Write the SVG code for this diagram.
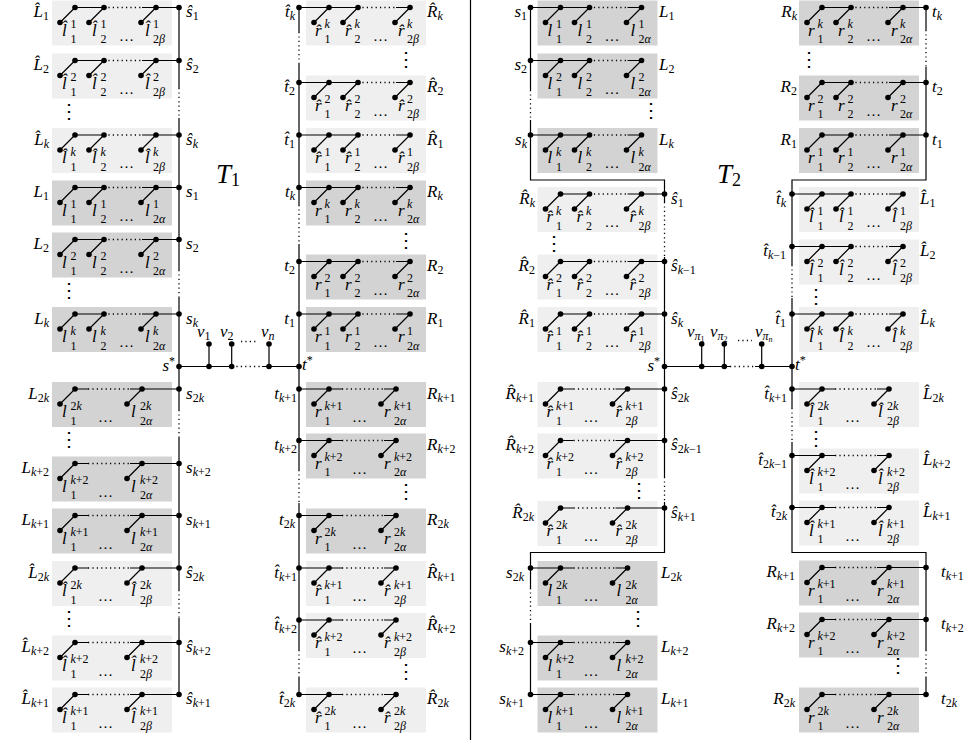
<svg xmlns="http://www.w3.org/2000/svg" width="975" height="740" viewBox="0 0 975 740">
<style>
.t{font-family:"Liberation Serif","DejaVu Serif",serif;font-style:italic;font-size:17px;fill:#000}
.s{font-size:12px}
.u{font-style:normal}
.T{font-family:"Liberation Serif","DejaVu Serif",serif;font-style:italic;font-size:27px;fill:#000}
.Ts{font-size:18px;font-style:normal}
.el{font-family:"Liberation Serif",serif;font-size:15px;font-style:normal;fill:#000}
.vd{font-family:"DejaVu Serif",serif;font-size:20px;text-anchor:middle;fill:#000}
.lt{fill:#efefef}
.dk{fill:#d3d3d3}
.ln{stroke:#000;stroke-width:1.2;fill:none}
.dt{stroke:#000;stroke-width:1.3;fill:none;stroke-dasharray:1.2 3.2}
.d{fill:#000}
.e{text-anchor:end}
</style>
<defs>
<g id="gA"><path class="ln" d="M23,0H52M90,0H127M8,15L23,0M37,15L52,0M89,15L104,0"/><path class="dt" d="M52,0H90"/><circle class="d" cx="23" cy="0" r="2.8"/><circle class="d" cx="52" cy="0" r="2.8"/><circle class="d" cx="104" cy="0" r="2.8"/><circle class="d" cx="127" cy="0" r="2.8"/><circle class="d" cx="8" cy="15" r="2.8"/><circle class="d" cx="37" cy="15" r="2.8"/><circle class="d" cx="89" cy="15" r="2.8"/></g>
<g id="gB"><path class="ln" d="M-7,0H52M90,0H104M8,15L23,0M37,15L52,0M89,15L104,0"/><path class="dt" d="M52,0H90"/><circle class="d" cx="-7" cy="0" r="2.8"/><circle class="d" cx="23" cy="0" r="2.8"/><circle class="d" cx="52" cy="0" r="2.8"/><circle class="d" cx="104" cy="0" r="2.8"/><circle class="d" cx="8" cy="15" r="2.8"/><circle class="d" cx="37" cy="15" r="2.8"/><circle class="d" cx="89" cy="15" r="2.8"/></g>
<g id="gC"><path class="ln" d="M23,0H36M78,0H127M8,15L23,0M75,15L90,0"/><path class="dt" d="M36,0H78"/><circle class="d" cx="23" cy="0" r="2.8"/><circle class="d" cx="90" cy="0" r="2.8"/><circle class="d" cx="127" cy="0" r="2.8"/><circle class="d" cx="8" cy="15" r="2.8"/><circle class="d" cx="75" cy="15" r="2.8"/></g>
<g id="gD"><path class="ln" d="M-7,0H36M78,0H90M8,15L23,0M75,15L90,0"/><path class="dt" d="M36,0H78"/><circle class="d" cx="-7" cy="0" r="2.8"/><circle class="d" cx="23" cy="0" r="2.8"/><circle class="d" cx="90" cy="0" r="2.8"/><circle class="d" cx="8" cy="15" r="2.8"/><circle class="d" cx="75" cy="15" r="2.8"/></g>
</defs>

<line class="ln" x1="470.5" y1="0" x2="470.5" y2="740"/>

<g id="connectors">
<path class="ln" d="M179,7.5V88M179,118V270M179,297V410M179,437V590M179,618V694.5"/>
<path class="dt" d="M179,88V118M179,270V297M179,410V437M179,590V618"/>
<path class="ln" d="M299,7.5V32M299,63V205M299,244V470M299,503V650M299,677V694.5"/>
<path class="dt" d="M299,32V63M299,205V244M299,470V503M299,650V677"/>
<path class="ln" d="M530.5,7.5V90M530.5,120V180H664.5V202M664.5,257V477M664.5,502V552.5H530.5V588M530.5,623V694.5"/>
<path class="dt" d="M530.5,90V120M664.5,202V257M664.5,477V502M530.5,588V623"/>
<path class="ln" d="M926,7.5V30M926,67V180H792V265M792,298V408M792,442V552.5H926V650M926,677V694.5"/>
<path class="dt" d="M926,30V67M792,265V298M792,408V442M926,650V677"/>
<path class="ln" d="M179,366.5H232M262,366.5H299M209,344V366.5M231.7,344V366.5M269,344V366.5"/>
<path class="dt" d="M232,366.5H262M241,341.5H258"/>
<path class="ln" d="M664.5,366.5H730M755,366.5H792M701.7,344V366.5M724.3,344V366.5M761.7,344V366.5"/>
<path class="dt" d="M730,366.5H755M738,340.5H752"/>
</g>

<g id="T1-mid">
<circle class="d" cx="179" cy="366.5" r="2.8"/><circle class="d" cx="209" cy="366.5" r="2.8"/><circle class="d" cx="231.7" cy="366.5" r="2.8"/><circle class="d" cx="269" cy="366.5" r="2.8"/><circle class="d" cx="299" cy="366.5" r="2.8"/><circle class="d" cx="209" cy="344" r="2.8"/><circle class="d" cx="231.7" cy="344" r="2.8"/><circle class="d" cx="269" cy="344" r="2.8"/>
<text class="t e" x="175" y="371">s<tspan class="s u" dy="-6">*</tspan></text>
<text class="t" x="302" y="370">t<tspan class="s u" dy="-6">*</tspan></text>
<text class="t" x="197" y="337">v<tspan class="s u" dy="3">1</tspan></text>
<text class="t" x="220" y="337">v<tspan class="s u" dy="3">2</tspan></text>
<text class="t" x="261" y="337">v<tspan class="s" dy="3">n</tspan></text>
<text class="T" x="216" y="183">T<tspan class="Ts" dy="3">1</tspan></text>
</g>
<g id="T2-mid">
<circle class="d" cx="664.5" cy="366.5" r="2.8"/><circle class="d" cx="701.7" cy="366.5" r="2.8"/><circle class="d" cx="724.3" cy="366.5" r="2.8"/><circle class="d" cx="761.7" cy="366.5" r="2.8"/><circle class="d" cx="792" cy="366.5" r="2.8"/><circle class="d" cx="701.7" cy="344" r="2.8"/><circle class="d" cx="724.3" cy="344" r="2.8"/><circle class="d" cx="761.7" cy="344" r="2.8"/>
<text class="t e" x="660" y="371">s<tspan class="s u" dy="-6">*</tspan></text>
<text class="t" x="795" y="370">t<tspan class="s u" dy="-6">*</tspan></text>
<text class="t" x="687" y="337">v<tspan class="s" dy="3">π<tspan class="u" font-size="8" dy="2">1</tspan></tspan></text>
<text class="t" x="710" y="337">v<tspan class="s" dy="3">π<tspan class="u" font-size="8" dy="2">2</tspan></tspan></text>
<text class="t" x="755" y="337">v<tspan class="s" dy="3">π<tspan font-size="8" dy="2">n</tspan></tspan></text>
<text class="T" x="717" y="183">T<tspan class="Ts" dy="3">2</tspan></text>
</g>

<g id="vdots">
<text class="vd" x="69" y="118">⋮</text>
<text class="vd" x="69" y="297">⋮</text>
<text class="vd" x="69" y="446">⋮</text>
<text class="vd" x="69" y="625">⋮</text>
<text class="vd" x="405.7" y="66">⋮</text>
<text class="vd" x="405.7" y="247">⋮</text>
<text class="vd" x="405.7" y="498">⋮</text>
<text class="vd" x="405.7" y="678">⋮</text>
<text class="vd" x="650.7" y="117">⋮</text>
<text class="vd" x="554" y="250">⋮</text>
<text class="vd" x="638.5" y="497">⋮</text>
<text class="vd" x="638" y="625">⋮</text>
<text class="vd" x="809" y="66">⋮</text>
<text class="vd" x="816" y="303">⋮</text>
<text class="vd" x="816" y="445">⋮</text>
<text class="vd" x="898.3" y="672">⋮</text>
</g>

<!-- T1 left column -->
<g id="T1-Lh1"><rect class="lt" x="52" y="0.5" width="120" height="45"/><use href="#gA" x="52" y="7.5"/>
<text class="t" x="62" y="35.5">l&#x302;<tspan class="s u" x="70.5" y="28">1</tspan><tspan class="s u" x="70.5" y="43">1</tspan></text>
<text class="t" x="92" y="35.5">l&#x302;<tspan class="s u" x="100.5" y="28">1</tspan><tspan class="s u" x="100.5" y="43">2</tspan></text>
<text class="el" x="119" y="40.5">…</text>
<text class="t" x="145" y="35.5">l&#x302;<tspan class="s u" x="153" y="28">1</tspan><tspan class="s" x="153" y="43"><tspan class="u">2</tspan>β</tspan></text>
<text class="t e" x="49" y="17">L&#x302;<tspan class="s u" dy="3">1</tspan></text>
<text class="t" x="186" y="17">ŝ<tspan class="s u" dy="3">1</tspan></text></g>

<g id="T1-Lh2"><rect class="lt" x="52" y="53.5" width="120" height="45"/><use href="#gA" x="52" y="60.5"/>
<text class="t" x="62" y="88.5">l&#x302;<tspan class="s u" x="70.5" y="81">2</tspan><tspan class="s u" x="70.5" y="96">1</tspan></text>
<text class="t" x="92" y="88.5">l&#x302;<tspan class="s u" x="100.5" y="81">2</tspan><tspan class="s u" x="100.5" y="96">2</tspan></text>
<text class="el" x="119" y="93.5">…</text>
<text class="t" x="145" y="88.5">l&#x302;<tspan class="s u" x="153" y="81">2</tspan><tspan class="s" x="153" y="96"><tspan class="u">2</tspan>β</tspan></text>
<text class="t e" x="49" y="70">L&#x302;<tspan class="s u" dy="3">2</tspan></text>
<text class="t" x="186" y="70">ŝ<tspan class="s u" dy="3">2</tspan></text></g>

<g id="T1-Lhk"><rect class="lt" x="52" y="128" width="120" height="45"/><use href="#gA" x="52" y="135"/>
<text class="t" x="62" y="163">l&#x302;<tspan class="s" x="70.5" y="155.5">k</tspan><tspan class="s u" x="70.5" y="170.5">1</tspan></text>
<text class="t" x="92" y="163">l&#x302;<tspan class="s" x="100.5" y="155.5">k</tspan><tspan class="s u" x="100.5" y="170.5">2</tspan></text>
<text class="el" x="119" y="168">…</text>
<text class="t" x="145" y="163">l&#x302;<tspan class="s" x="153" y="155.5">k</tspan><tspan class="s" x="153" y="170.5"><tspan class="u">2</tspan>β</tspan></text>
<text class="t e" x="49" y="144.5">L&#x302;<tspan class="s" dy="3">k</tspan></text>
<text class="t" x="186" y="144.5">ŝ<tspan class="s" dy="3">k</tspan></text></g>

<g id="T1-L1"><rect class="dk" x="52" y="180.5" width="120" height="45"/><use href="#gA" x="52" y="187.5"/>
<text class="t" x="62" y="215.5">l<tspan class="s u" x="70.5" y="208">1</tspan><tspan class="s u" x="70.5" y="223">1</tspan></text>
<text class="t" x="92" y="215.5">l<tspan class="s u" x="100.5" y="208">1</tspan><tspan class="s u" x="100.5" y="223">2</tspan></text>
<text class="el" x="119" y="220.5">…</text>
<text class="t" x="145" y="215.5">l<tspan class="s u" x="153" y="208">1</tspan><tspan class="s" x="153" y="223"><tspan class="u">2</tspan>α</tspan></text>
<text class="t e" x="49" y="197">L<tspan class="s u" dy="3">1</tspan></text>
<text class="t" x="186" y="197">s<tspan class="s u" dy="3">1</tspan></text></g>

<g id="T1-L2"><rect class="dk" x="52" y="232.5" width="120" height="45"/><use href="#gA" x="52" y="239.5"/>
<text class="t" x="62" y="267.5">l<tspan class="s u" x="70.5" y="260">2</tspan><tspan class="s u" x="70.5" y="275">1</tspan></text>
<text class="t" x="92" y="267.5">l<tspan class="s u" x="100.5" y="260">2</tspan><tspan class="s u" x="100.5" y="275">2</tspan></text>
<text class="el" x="119" y="272.5">…</text>
<text class="t" x="145" y="267.5">l<tspan class="s u" x="153" y="260">2</tspan><tspan class="s" x="153" y="275"><tspan class="u">2</tspan>α</tspan></text>
<text class="t e" x="49" y="249">L<tspan class="s u" dy="3">2</tspan></text>
<text class="t" x="186" y="249">s<tspan class="s u" dy="3">2</tspan></text></g>

<g id="T1-Lk"><rect class="dk" x="52" y="307" width="120" height="45"/><use href="#gA" x="52" y="314"/>
<text class="t" x="62" y="342">l<tspan class="s" x="70.5" y="334.5">k</tspan><tspan class="s u" x="70.5" y="349.5">1</tspan></text>
<text class="t" x="92" y="342">l<tspan class="s" x="100.5" y="334.5">k</tspan><tspan class="s u" x="100.5" y="349.5">2</tspan></text>
<text class="el" x="119" y="347">…</text>
<text class="t" x="145" y="342">l<tspan class="s" x="153" y="334.5">k</tspan><tspan class="s" x="153" y="349.5"><tspan class="u">2</tspan>α</tspan></text>
<text class="t e" x="49" y="323.5">L<tspan class="s" dy="3">k</tspan></text>
<text class="t" x="186" y="323.5">s<tspan class="s" dy="3">k</tspan></text></g>

<g id="T1-L2k"><rect class="dk" x="52" y="382" width="120" height="45"/><use href="#gC" x="52" y="389"/>
<text class="t" x="62" y="417">l<tspan class="s" x="70.5" y="409.5"><tspan class="u">2</tspan>k</tspan><tspan class="s u" x="70.5" y="424.5">1</tspan></text>
<text class="el" x="98" y="422">…</text>
<text class="t" x="131" y="417">l<tspan class="s" x="140" y="409.5"><tspan class="u">2</tspan>k</tspan><tspan class="s" x="140" y="424.5"><tspan class="u">2</tspan>α</tspan></text>
<text class="t e" x="49" y="398.5">L<tspan class="s" dy="3"><tspan class="u">2</tspan>k</tspan></text>
<text class="t" x="186" y="398.5">s<tspan class="s" dy="3"><tspan class="u">2</tspan>k</tspan></text></g>

<g id="T1-Lk2"><rect class="dk" x="52" y="456.5" width="120" height="45"/><use href="#gC" x="52" y="463.5"/>
<text class="t" x="62" y="491.5">l<tspan class="s" x="70.5" y="484">k<tspan class="u">+2</tspan></tspan><tspan class="s u" x="70.5" y="499">1</tspan></text>
<text class="el" x="98" y="496.5">…</text>
<text class="t" x="131" y="491.5">l<tspan class="s" x="140" y="484">k<tspan class="u">+2</tspan></tspan><tspan class="s" x="140" y="499"><tspan class="u">2</tspan>α</tspan></text>
<text class="t e" x="49" y="473">L<tspan class="s" dy="3">k<tspan class="u">+2</tspan></tspan></text>
<text class="t" x="186" y="473">s<tspan class="s" dy="3">k<tspan class="u">+2</tspan></tspan></text></g>

<g id="T1-Lk1"><rect class="dk" x="52" y="508.5" width="120" height="45"/><use href="#gC" x="52" y="515.5"/>
<text class="t" x="62" y="543.5">l<tspan class="s" x="70.5" y="536">k<tspan class="u">+1</tspan></tspan><tspan class="s u" x="70.5" y="551">1</tspan></text>
<text class="el" x="98" y="548.5">…</text>
<text class="t" x="131" y="543.5">l<tspan class="s" x="140" y="536">k<tspan class="u">+1</tspan></tspan><tspan class="s" x="140" y="551"><tspan class="u">2</tspan>α</tspan></text>
<text class="t e" x="49" y="525">L<tspan class="s" dy="3">k<tspan class="u">+1</tspan></tspan></text>
<text class="t" x="186" y="525">s<tspan class="s" dy="3">k<tspan class="u">+1</tspan></tspan></text></g>

<g id="T1-Lh2k"><rect class="lt" x="52" y="561" width="120" height="45"/><use href="#gC" x="52" y="568"/>
<text class="t" x="62" y="596">l&#x302;<tspan class="s" x="70.5" y="588.5"><tspan class="u">2</tspan>k</tspan><tspan class="s u" x="70.5" y="603.5">1</tspan></text>
<text class="el" x="98" y="601">…</text>
<text class="t" x="131" y="596">l&#x302;<tspan class="s" x="140" y="588.5"><tspan class="u">2</tspan>k</tspan><tspan class="s" x="140" y="603.5"><tspan class="u">2</tspan>β</tspan></text>
<text class="t e" x="49" y="577.5">L&#x302;<tspan class="s" dy="3"><tspan class="u">2</tspan>k</tspan></text>
<text class="t" x="186" y="577.5">ŝ<tspan class="s" dy="3"><tspan class="u">2</tspan>k</tspan></text></g>

<g id="T1-Lhk2"><rect class="lt" x="52" y="635.5" width="120" height="45"/><use href="#gC" x="52" y="642.5"/>
<text class="t" x="62" y="670.5">l&#x302;<tspan class="s" x="70.5" y="663">k<tspan class="u">+2</tspan></tspan><tspan class="s u" x="70.5" y="678">1</tspan></text>
<text class="el" x="98" y="675.5">…</text>
<text class="t" x="131" y="670.5">l&#x302;<tspan class="s" x="140" y="663">k<tspan class="u">+2</tspan></tspan><tspan class="s" x="140" y="678"><tspan class="u">2</tspan>β</tspan></text>
<text class="t e" x="49" y="652">L&#x302;<tspan class="s" dy="3">k<tspan class="u">+2</tspan></tspan></text>
<text class="t" x="186" y="652">ŝ<tspan class="s" dy="3">k<tspan class="u">+2</tspan></tspan></text></g>

<g id="T1-Lhk1"><rect class="lt" x="52" y="687.5" width="120" height="45"/><use href="#gC" x="52" y="694.5"/>
<text class="t" x="62" y="722.5">l&#x302;<tspan class="s" x="70.5" y="715">k<tspan class="u">+1</tspan></tspan><tspan class="s u" x="70.5" y="730">1</tspan></text>
<text class="el" x="98" y="727.5">…</text>
<text class="t" x="131" y="722.5">l&#x302;<tspan class="s" x="140" y="715">k<tspan class="u">+1</tspan></tspan><tspan class="s" x="140" y="730"><tspan class="u">2</tspan>β</tspan></text>
<text class="t e" x="49" y="704">L&#x302;<tspan class="s" dy="3">k<tspan class="u">+1</tspan></tspan></text>
<text class="t" x="186" y="704">ŝ<tspan class="s" dy="3">k<tspan class="u">+1</tspan></tspan></text></g>

<!-- T1 right column -->
<g id="T1-Rhk"><rect class="lt" x="306" y="0.5" width="120" height="45"/><use href="#gB" x="306" y="7.5"/>
<text class="t" x="315" y="35.5">r&#x302;<tspan class="s" x="324.5" y="28">k</tspan><tspan class="s u" x="324.5" y="43">1</tspan></text>
<text class="t" x="345" y="35.5">r&#x302;<tspan class="s" x="354.5" y="28">k</tspan><tspan class="s u" x="354.5" y="43">2</tspan></text>
<text class="el" x="373" y="40.5">…</text>
<text class="t" x="398" y="35.5">r&#x302;<tspan class="s" x="407" y="28">k</tspan><tspan class="s" x="407" y="43"><tspan class="u">2</tspan>β</tspan></text>
<text class="t e" x="295" y="17">t&#x302;<tspan class="s" dy="3">k</tspan></text>
<text class="t" x="427" y="17">R&#x302;<tspan class="s" dy="3">k</tspan></text></g>

<g id="T1-Rh2"><rect class="lt" x="306" y="75.5" width="120" height="45"/><use href="#gB" x="306" y="82.5"/>
<text class="t" x="315" y="110.5">r&#x302;<tspan class="s u" x="324.5" y="103">2</tspan><tspan class="s u" x="324.5" y="118">1</tspan></text>
<text class="t" x="345" y="110.5">r&#x302;<tspan class="s u" x="354.5" y="103">2</tspan><tspan class="s u" x="354.5" y="118">2</tspan></text>
<text class="el" x="373" y="115.5">…</text>
<text class="t" x="398" y="110.5">r&#x302;<tspan class="s u" x="407" y="103">2</tspan><tspan class="s" x="407" y="118"><tspan class="u">2</tspan>β</tspan></text>
<text class="t e" x="295" y="92">t&#x302;<tspan class="s u" dy="3">2</tspan></text>
<text class="t" x="427" y="92">R&#x302;<tspan class="s u" dy="3">2</tspan></text></g>

<g id="T1-Rh1"><rect class="lt" x="306" y="128" width="120" height="45"/><use href="#gB" x="306" y="135"/>
<text class="t" x="315" y="163">r&#x302;<tspan class="s u" x="324.5" y="155.5">1</tspan><tspan class="s u" x="324.5" y="170.5">1</tspan></text>
<text class="t" x="345" y="163">r&#x302;<tspan class="s u" x="354.5" y="155.5">1</tspan><tspan class="s u" x="354.5" y="170.5">2</tspan></text>
<text class="el" x="373" y="168">…</text>
<text class="t" x="398" y="163">r&#x302;<tspan class="s u" x="407" y="155.5">1</tspan><tspan class="s" x="407" y="170.5"><tspan class="u">2</tspan>β</tspan></text>
<text class="t e" x="295" y="144.5">t&#x302;<tspan class="s u" dy="3">1</tspan></text>
<text class="t" x="427" y="144.5">R&#x302;<tspan class="s u" dy="3">1</tspan></text></g>

<g id="T1-Rk"><rect class="dk" x="306" y="180.5" width="120" height="45"/><use href="#gB" x="306" y="187.5"/>
<text class="t" x="315" y="215.5">r<tspan class="s" x="324.5" y="208">k</tspan><tspan class="s u" x="324.5" y="223">1</tspan></text>
<text class="t" x="345" y="215.5">r<tspan class="s" x="354.5" y="208">k</tspan><tspan class="s u" x="354.5" y="223">2</tspan></text>
<text class="el" x="373" y="220.5">…</text>
<text class="t" x="398" y="215.5">r<tspan class="s" x="407" y="208">k</tspan><tspan class="s" x="407" y="223"><tspan class="u">2</tspan>α</tspan></text>
<text class="t e" x="295" y="197">t<tspan class="s" dy="3">k</tspan></text>
<text class="t" x="427" y="197">R<tspan class="s" dy="3">k</tspan></text></g>

<g id="T1-R2"><rect class="dk" x="306" y="254.5" width="120" height="45"/><use href="#gB" x="306" y="261.5"/>
<text class="t" x="315" y="289.5">r<tspan class="s u" x="324.5" y="282">2</tspan><tspan class="s u" x="324.5" y="297">1</tspan></text>
<text class="t" x="345" y="289.5">r<tspan class="s u" x="354.5" y="282">2</tspan><tspan class="s u" x="354.5" y="297">2</tspan></text>
<text class="el" x="373" y="294.5">…</text>
<text class="t" x="398" y="289.5">r<tspan class="s u" x="407" y="282">2</tspan><tspan class="s" x="407" y="297"><tspan class="u">2</tspan>α</tspan></text>
<text class="t e" x="295" y="271">t<tspan class="s u" dy="3">2</tspan></text>
<text class="t" x="427" y="271">R<tspan class="s u" dy="3">2</tspan></text></g>

<g id="T1-R1"><rect class="dk" x="306" y="307" width="120" height="45"/><use href="#gB" x="306" y="314"/>
<text class="t" x="315" y="342">r<tspan class="s u" x="324.5" y="334.5">1</tspan><tspan class="s u" x="324.5" y="349.5">1</tspan></text>
<text class="t" x="345" y="342">r<tspan class="s u" x="354.5" y="334.5">1</tspan><tspan class="s u" x="354.5" y="349.5">2</tspan></text>
<text class="el" x="373" y="347">…</text>
<text class="t" x="398" y="342">r<tspan class="s u" x="407" y="334.5">1</tspan><tspan class="s" x="407" y="349.5"><tspan class="u">2</tspan>α</tspan></text>
<text class="t e" x="295" y="323.5">t<tspan class="s u" dy="3">1</tspan></text>
<text class="t" x="427" y="323.5">R<tspan class="s u" dy="3">1</tspan></text></g>

<g id="T1-Rk1"><rect class="dk" x="306" y="382" width="120" height="45"/><use href="#gD" x="306" y="389"/>
<text class="t" x="315" y="417">r<tspan class="s" x="324.5" y="409.5">k<tspan class="u">+1</tspan></tspan><tspan class="s u" x="324.5" y="424.5">1</tspan></text>
<text class="el" x="352" y="422">…</text>
<text class="t" x="384" y="417">r<tspan class="s" x="394" y="409.5">k<tspan class="u">+1</tspan></tspan><tspan class="s" x="394" y="424.5"><tspan class="u">2</tspan>α</tspan></text>
<text class="t e" x="297" y="398.5">t<tspan class="s" dy="3">k<tspan class="u">+1</tspan></tspan></text>
<text class="t" x="427" y="398.5">R<tspan class="s" dy="3">k<tspan class="u">+1</tspan></tspan></text></g>

<g id="T1-Rk2"><rect class="dk" x="306" y="433.5" width="120" height="45"/><use href="#gD" x="306" y="440.5"/>
<text class="t" x="315" y="468.5">r<tspan class="s" x="324.5" y="461">k<tspan class="u">+2</tspan></tspan><tspan class="s u" x="324.5" y="476">1</tspan></text>
<text class="el" x="352" y="473.5">…</text>
<text class="t" x="384" y="468.5">r<tspan class="s" x="394" y="461">k<tspan class="u">+2</tspan></tspan><tspan class="s" x="394" y="476"><tspan class="u">2</tspan>α</tspan></text>
<text class="t e" x="297" y="450">t<tspan class="s" dy="3">k<tspan class="u">+2</tspan></tspan></text>
<text class="t" x="427" y="450">R<tspan class="s" dy="3">k<tspan class="u">+2</tspan></tspan></text></g>

<g id="T1-R2k"><rect class="dk" x="306" y="508.5" width="120" height="45"/><use href="#gD" x="306" y="515.5"/>
<text class="t" x="315" y="543.5">r<tspan class="s" x="324.5" y="536"><tspan class="u">2</tspan>k</tspan><tspan class="s u" x="324.5" y="551">1</tspan></text>
<text class="el" x="352" y="548.5">…</text>
<text class="t" x="384" y="543.5">r<tspan class="s" x="394" y="536"><tspan class="u">2</tspan>k</tspan><tspan class="s" x="394" y="551"><tspan class="u">2</tspan>α</tspan></text>
<text class="t e" x="295" y="525">t<tspan class="s" dy="3"><tspan class="u">2</tspan>k</tspan></text>
<text class="t" x="427" y="525">R<tspan class="s" dy="3"><tspan class="u">2</tspan>k</tspan></text></g>

<g id="T1-Rhk1"><rect class="lt" x="306" y="561" width="120" height="45"/><use href="#gD" x="306" y="568"/>
<text class="t" x="315" y="596">r&#x302;<tspan class="s" x="324.5" y="588.5">k<tspan class="u">+1</tspan></tspan><tspan class="s u" x="324.5" y="603.5">1</tspan></text>
<text class="el" x="352" y="601">…</text>
<text class="t" x="384" y="596">r&#x302;<tspan class="s" x="394" y="588.5">k<tspan class="u">+1</tspan></tspan><tspan class="s" x="394" y="603.5"><tspan class="u">2</tspan>β</tspan></text>
<text class="t e" x="297" y="577.5">t&#x302;<tspan class="s" dy="3">k<tspan class="u">+1</tspan></tspan></text>
<text class="t" x="427" y="577.5">R&#x302;<tspan class="s" dy="3">k<tspan class="u">+1</tspan></tspan></text></g>

<g id="T1-Rhk2"><rect class="lt" x="306" y="613" width="120" height="45"/><use href="#gD" x="306" y="620"/>
<text class="t" x="315" y="648">r&#x302;<tspan class="s" x="324.5" y="640.5">k<tspan class="u">+2</tspan></tspan><tspan class="s u" x="324.5" y="655.5">1</tspan></text>
<text class="el" x="352" y="653">…</text>
<text class="t" x="384" y="648">r&#x302;<tspan class="s" x="394" y="640.5">k<tspan class="u">+2</tspan></tspan><tspan class="s" x="394" y="655.5"><tspan class="u">2</tspan>β</tspan></text>
<text class="t e" x="297" y="629.5">t&#x302;<tspan class="s" dy="3">k<tspan class="u">+2</tspan></tspan></text>
<text class="t" x="427" y="629.5">R&#x302;<tspan class="s" dy="3">k<tspan class="u">+2</tspan></tspan></text></g>

<g id="T1-Rh2k"><rect class="lt" x="306" y="687.5" width="120" height="45"/><use href="#gD" x="306" y="694.5"/>
<text class="t" x="315" y="722.5">r&#x302;<tspan class="s" x="324.5" y="715"><tspan class="u">2</tspan>k</tspan><tspan class="s u" x="324.5" y="730">1</tspan></text>
<text class="el" x="352" y="727.5">…</text>
<text class="t" x="384" y="722.5">r&#x302;<tspan class="s" x="394" y="715"><tspan class="u">2</tspan>k</tspan><tspan class="s" x="394" y="730"><tspan class="u">2</tspan>β</tspan></text>
<text class="t e" x="295" y="704">t&#x302;<tspan class="s" dy="3"><tspan class="u">2</tspan>k</tspan></text>
<text class="t" x="427" y="704">R&#x302;<tspan class="s" dy="3"><tspan class="u">2</tspan>k</tspan></text></g>

<!-- T2 left column -->
<g id="T2-L1"><rect class="dk" x="537.5" y="0.5" width="120" height="45"/><use href="#gB" x="537.5" y="7.5"/>
<text class="t" x="547.5" y="35.5">l<tspan class="s u" x="556" y="28">1</tspan><tspan class="s u" x="556" y="43">1</tspan></text>
<text class="t" x="577.5" y="35.5">l<tspan class="s u" x="586" y="28">1</tspan><tspan class="s u" x="586" y="43">2</tspan></text>
<text class="el" x="604.5" y="40.5">…</text>
<text class="t" x="630.5" y="35.5">l<tspan class="s u" x="638.5" y="28">1</tspan><tspan class="s" x="638.5" y="43"><tspan class="u">2</tspan>α</tspan></text>
<text class="t e" x="527" y="17">s<tspan class="s u" dy="3">1</tspan></text>
<text class="t" x="659" y="17">L<tspan class="s u" dy="3">1</tspan></text></g>

<g id="T2-L2"><rect class="dk" x="537.5" y="53.5" width="120" height="45"/><use href="#gB" x="537.5" y="60.5"/>
<text class="t" x="547.5" y="88.5">l<tspan class="s u" x="556" y="81">2</tspan><tspan class="s u" x="556" y="96">1</tspan></text>
<text class="t" x="577.5" y="88.5">l<tspan class="s u" x="586" y="81">2</tspan><tspan class="s u" x="586" y="96">2</tspan></text>
<text class="el" x="604.5" y="93.5">…</text>
<text class="t" x="630.5" y="88.5">l<tspan class="s u" x="638.5" y="81">2</tspan><tspan class="s" x="638.5" y="96"><tspan class="u">2</tspan>α</tspan></text>
<text class="t e" x="527" y="70">s<tspan class="s u" dy="3">2</tspan></text>
<text class="t" x="659" y="70">L<tspan class="s u" dy="3">2</tspan></text></g>

<g id="T2-Lk"><rect class="dk" x="537.5" y="128" width="120" height="45"/><use href="#gB" x="537.5" y="135"/>
<text class="t" x="547.5" y="163">l<tspan class="s" x="556" y="155.5">k</tspan><tspan class="s u" x="556" y="170.5">1</tspan></text>
<text class="t" x="577.5" y="163">l<tspan class="s" x="586" y="155.5">k</tspan><tspan class="s u" x="586" y="170.5">2</tspan></text>
<text class="el" x="604.5" y="168">…</text>
<text class="t" x="630.5" y="163">l<tspan class="s" x="638.5" y="155.5">k</tspan><tspan class="s" x="638.5" y="170.5"><tspan class="u">2</tspan>α</tspan></text>
<text class="t e" x="527" y="144.5">s<tspan class="s" dy="3">k</tspan></text>
<text class="t" x="659" y="144.5">L<tspan class="s" dy="3">k</tspan></text></g>

<g id="T2-Rhk"><rect class="lt" x="537.5" y="187" width="120" height="45"/><use href="#gA" x="537.5" y="194"/>
<text class="t" x="546.5" y="222">r&#x302;<tspan class="s" x="556" y="214.5">k</tspan><tspan class="s u" x="556" y="229.5">1</tspan></text>
<text class="t" x="576.5" y="222">r&#x302;<tspan class="s" x="586" y="214.5">k</tspan><tspan class="s u" x="586" y="229.5">2</tspan></text>
<text class="el" x="604.5" y="227">…</text>
<text class="t" x="629.5" y="222">r&#x302;<tspan class="s" x="638.5" y="214.5">k</tspan><tspan class="s" x="638.5" y="229.5"><tspan class="u">2</tspan>β</tspan></text>
<text class="t e" x="535" y="203.5">R&#x302;<tspan class="s" dy="3">k</tspan></text>
<text class="t" x="671" y="203.5">ŝ<tspan class="s u" dy="3">1</tspan></text></g>

<g id="T2-Rh2"><rect class="lt" x="537.5" y="254.5" width="120" height="45"/><use href="#gA" x="537.5" y="261.5"/>
<text class="t" x="546.5" y="289.5">r&#x302;<tspan class="s u" x="556" y="282">2</tspan><tspan class="s u" x="556" y="297">1</tspan></text>
<text class="t" x="576.5" y="289.5">r&#x302;<tspan class="s u" x="586" y="282">2</tspan><tspan class="s u" x="586" y="297">2</tspan></text>
<text class="el" x="604.5" y="294.5">…</text>
<text class="t" x="629.5" y="289.5">r&#x302;<tspan class="s u" x="638.5" y="282">2</tspan><tspan class="s" x="638.5" y="297"><tspan class="u">2</tspan>β</tspan></text>
<text class="t e" x="535" y="271">R&#x302;<tspan class="s u" dy="3">2</tspan></text>
<text class="t" x="671" y="271">ŝ<tspan class="s" dy="3">k<tspan class="u">−1</tspan></tspan></text></g>

<g id="T2-Rh1"><rect class="lt" x="537.5" y="307" width="120" height="45"/><use href="#gA" x="537.5" y="314"/>
<text class="t" x="546.5" y="342">r&#x302;<tspan class="s u" x="556" y="334.5">1</tspan><tspan class="s u" x="556" y="349.5">1</tspan></text>
<text class="t" x="576.5" y="342">r&#x302;<tspan class="s u" x="586" y="334.5">1</tspan><tspan class="s u" x="586" y="349.5">2</tspan></text>
<text class="el" x="604.5" y="347">…</text>
<text class="t" x="629.5" y="342">r&#x302;<tspan class="s u" x="638.5" y="334.5">1</tspan><tspan class="s" x="638.5" y="349.5"><tspan class="u">2</tspan>β</tspan></text>
<text class="t e" x="535" y="323.5">R&#x302;<tspan class="s u" dy="3">1</tspan></text>
<text class="t" x="671" y="323.5">ŝ<tspan class="s" dy="3">k</tspan></text></g>

<g id="T2-Rhk1"><rect class="lt" x="537.5" y="382" width="120" height="45"/><use href="#gC" x="537.5" y="389"/>
<text class="t" x="546.5" y="417">r&#x302;<tspan class="s" x="556" y="409.5">k<tspan class="u">+1</tspan></tspan><tspan class="s u" x="556" y="424.5">1</tspan></text>
<text class="el" x="583.5" y="422">…</text>
<text class="t" x="615.5" y="417">r&#x302;<tspan class="s" x="625.5" y="409.5">k<tspan class="u">+1</tspan></tspan><tspan class="s" x="625.5" y="424.5"><tspan class="u">2</tspan>β</tspan></text>
<text class="t e" x="534" y="398.5">R&#x302;<tspan class="s" dy="3">k<tspan class="u">+1</tspan></tspan></text>
<text class="t" x="671" y="398.5">ŝ<tspan class="s" dy="3"><tspan class="u">2</tspan>k</tspan></text></g>

<g id="T2-Rhk2"><rect class="lt" x="537.5" y="433.5" width="120" height="45"/><use href="#gC" x="537.5" y="440.5"/>
<text class="t" x="546.5" y="468.5">r&#x302;<tspan class="s" x="556" y="461">k<tspan class="u">+2</tspan></tspan><tspan class="s u" x="556" y="476">1</tspan></text>
<text class="el" x="583.5" y="473.5">…</text>
<text class="t" x="615.5" y="468.5">r&#x302;<tspan class="s" x="625.5" y="461">k<tspan class="u">+2</tspan></tspan><tspan class="s" x="625.5" y="476"><tspan class="u">2</tspan>β</tspan></text>
<text class="t e" x="534" y="450">R&#x302;<tspan class="s" dy="3">k<tspan class="u">+2</tspan></tspan></text>
<text class="t" x="671" y="450">ŝ<tspan class="s" dy="3"><tspan class="u">2</tspan>k<tspan class="u">−1</tspan></tspan></text></g>

<g id="T2-Rh2k"><rect class="lt" x="537.5" y="501" width="120" height="45"/><use href="#gC" x="537.5" y="508"/>
<text class="t" x="546.5" y="536">r&#x302;<tspan class="s" x="556" y="528.5"><tspan class="u">2</tspan>k</tspan><tspan class="s u" x="556" y="543.5">1</tspan></text>
<text class="el" x="583.5" y="541">…</text>
<text class="t" x="615.5" y="536">r&#x302;<tspan class="s" x="625.5" y="528.5"><tspan class="u">2</tspan>k</tspan><tspan class="s" x="625.5" y="543.5"><tspan class="u">2</tspan>β</tspan></text>
<text class="t e" x="534" y="517.5">R&#x302;<tspan class="s" dy="3"><tspan class="u">2</tspan>k</tspan></text>
<text class="t" x="671" y="517.5">ŝ<tspan class="s" dy="3">k<tspan class="u">+1</tspan></tspan></text></g>

<g id="T2-L2k"><rect class="dk" x="537.5" y="561" width="120" height="45"/><use href="#gD" x="537.5" y="568"/>
<text class="t" x="547.5" y="596">l<tspan class="s" x="556" y="588.5"><tspan class="u">2</tspan>k</tspan><tspan class="s u" x="556" y="603.5">1</tspan></text>
<text class="el" x="583.5" y="601">…</text>
<text class="t" x="616.5" y="596">l<tspan class="s" x="625.5" y="588.5"><tspan class="u">2</tspan>k</tspan><tspan class="s" x="625.5" y="603.5"><tspan class="u">2</tspan>α</tspan></text>
<text class="t e" x="524" y="577.5">s<tspan class="s" dy="3"><tspan class="u">2</tspan>k</tspan></text>
<text class="t" x="661" y="577.5">L<tspan class="s" dy="3"><tspan class="u">2</tspan>k</tspan></text></g>

<g id="T2-Lk2"><rect class="dk" x="537.5" y="635.5" width="120" height="45"/><use href="#gD" x="537.5" y="642.5"/>
<text class="t" x="547.5" y="670.5">l<tspan class="s" x="556" y="663">k<tspan class="u">+2</tspan></tspan><tspan class="s u" x="556" y="678">1</tspan></text>
<text class="el" x="583.5" y="675.5">…</text>
<text class="t" x="616.5" y="670.5">l<tspan class="s" x="625.5" y="663">k<tspan class="u">+2</tspan></tspan><tspan class="s" x="625.5" y="678"><tspan class="u">2</tspan>α</tspan></text>
<text class="t e" x="524" y="652">s<tspan class="s" dy="3">k<tspan class="u">+2</tspan></tspan></text>
<text class="t" x="661" y="652">L<tspan class="s" dy="3">k<tspan class="u">+2</tspan></tspan></text></g>

<g id="T2-Lk1"><rect class="dk" x="537.5" y="687.5" width="120" height="45"/><use href="#gD" x="537.5" y="694.5"/>
<text class="t" x="547.5" y="722.5">l<tspan class="s" x="556" y="715">k<tspan class="u">+1</tspan></tspan><tspan class="s u" x="556" y="730">1</tspan></text>
<text class="el" x="583.5" y="727.5">…</text>
<text class="t" x="616.5" y="722.5">l<tspan class="s" x="625.5" y="715">k<tspan class="u">+1</tspan></tspan><tspan class="s" x="625.5" y="730"><tspan class="u">2</tspan>α</tspan></text>
<text class="t e" x="524" y="704">s<tspan class="s" dy="3">k<tspan class="u">+1</tspan></tspan></text>
<text class="t" x="661" y="704">L<tspan class="s" dy="3">k<tspan class="u">+1</tspan></tspan></text></g>

<!-- T2 right column -->
<g id="T2-Rk"><rect class="dk" x="799" y="0.5" width="120" height="45"/><use href="#gA" x="799" y="7.5"/>
<text class="t" x="808" y="35.5">r<tspan class="s" x="817.5" y="28">k</tspan><tspan class="s u" x="817.5" y="43">1</tspan></text>
<text class="t" x="838" y="35.5">r<tspan class="s" x="847.5" y="28">k</tspan><tspan class="s u" x="847.5" y="43">2</tspan></text>
<text class="el" x="866" y="40.5">…</text>
<text class="t" x="891" y="35.5">r<tspan class="s" x="900" y="28">k</tspan><tspan class="s" x="900" y="43"><tspan class="u">2</tspan>α</tspan></text>
<text class="t e" x="797" y="17">R<tspan class="s" dy="3">k</tspan></text>
<text class="t" x="932" y="17">t<tspan class="s" dy="3">k</tspan></text></g>

<g id="T2-R2"><rect class="dk" x="799" y="75.5" width="120" height="45"/><use href="#gA" x="799" y="82.5"/>
<text class="t" x="808" y="110.5">r<tspan class="s u" x="817.5" y="103">2</tspan><tspan class="s u" x="817.5" y="118">1</tspan></text>
<text class="t" x="838" y="110.5">r<tspan class="s u" x="847.5" y="103">2</tspan><tspan class="s u" x="847.5" y="118">2</tspan></text>
<text class="el" x="866" y="115.5">…</text>
<text class="t" x="891" y="110.5">r<tspan class="s u" x="900" y="103">2</tspan><tspan class="s" x="900" y="118"><tspan class="u">2</tspan>α</tspan></text>
<text class="t e" x="797" y="92">R<tspan class="s u" dy="3">2</tspan></text>
<text class="t" x="932" y="92">t<tspan class="s u" dy="3">2</tspan></text></g>

<g id="T2-R1"><rect class="dk" x="799" y="128" width="120" height="45"/><use href="#gA" x="799" y="135"/>
<text class="t" x="808" y="163">r<tspan class="s u" x="817.5" y="155.5">1</tspan><tspan class="s u" x="817.5" y="170.5">1</tspan></text>
<text class="t" x="838" y="163">r<tspan class="s u" x="847.5" y="155.5">1</tspan><tspan class="s u" x="847.5" y="170.5">2</tspan></text>
<text class="el" x="866" y="168">…</text>
<text class="t" x="891" y="163">r<tspan class="s u" x="900" y="155.5">1</tspan><tspan class="s" x="900" y="170.5"><tspan class="u">2</tspan>α</tspan></text>
<text class="t e" x="797" y="144.5">R<tspan class="s u" dy="3">1</tspan></text>
<text class="t" x="932" y="144.5">t<tspan class="s u" dy="3">1</tspan></text></g>

<g id="T2-Lh1"><rect class="lt" x="799" y="187" width="120" height="45"/><use href="#gB" x="799" y="194"/>
<text class="t" x="809" y="222">l&#x302;<tspan class="s u" x="817.5" y="214.5">1</tspan><tspan class="s u" x="817.5" y="229.5">1</tspan></text>
<text class="t" x="839" y="222">l&#x302;<tspan class="s u" x="847.5" y="214.5">1</tspan><tspan class="s u" x="847.5" y="229.5">2</tspan></text>
<text class="el" x="866" y="227">…</text>
<text class="t" x="892" y="222">l&#x302;<tspan class="s u" x="900" y="214.5">1</tspan><tspan class="s" x="900" y="229.5"><tspan class="u">2</tspan>β</tspan></text>
<text class="t e" x="786" y="203.5">t&#x302;<tspan class="s" dy="3">k</tspan></text>
<text class="t" x="920" y="203.5">L&#x302;<tspan class="s u" dy="3">1</tspan></text></g>

<g id="T2-Lh2"><rect class="lt" x="799" y="239.5" width="120" height="45"/><use href="#gB" x="799" y="246.5"/>
<text class="t" x="809" y="274.5">l&#x302;<tspan class="s u" x="817.5" y="267">2</tspan><tspan class="s u" x="817.5" y="282">1</tspan></text>
<text class="t" x="839" y="274.5">l&#x302;<tspan class="s u" x="847.5" y="267">2</tspan><tspan class="s u" x="847.5" y="282">2</tspan></text>
<text class="el" x="866" y="279.5">…</text>
<text class="t" x="892" y="274.5">l&#x302;<tspan class="s u" x="900" y="267">2</tspan><tspan class="s" x="900" y="282"><tspan class="u">2</tspan>β</tspan></text>
<text class="t e" x="786" y="256">t&#x302;<tspan class="s" dy="3">k<tspan class="u">−1</tspan></tspan></text>
<text class="t" x="920" y="256">L&#x302;<tspan class="s u" dy="3">2</tspan></text></g>

<g id="T2-Lhk"><rect class="lt" x="799" y="307" width="120" height="45"/><use href="#gB" x="799" y="314"/>
<text class="t" x="809" y="342">l&#x302;<tspan class="s" x="817.5" y="334.5">k</tspan><tspan class="s u" x="817.5" y="349.5">1</tspan></text>
<text class="t" x="839" y="342">l&#x302;<tspan class="s" x="847.5" y="334.5">k</tspan><tspan class="s u" x="847.5" y="349.5">2</tspan></text>
<text class="el" x="866" y="347">…</text>
<text class="t" x="892" y="342">l&#x302;<tspan class="s" x="900" y="334.5">k</tspan><tspan class="s" x="900" y="349.5"><tspan class="u">2</tspan>β</tspan></text>
<text class="t e" x="786" y="323.5">t&#x302;<tspan class="s u" dy="3">1</tspan></text>
<text class="t" x="920" y="323.5">L&#x302;<tspan class="s" dy="3">k</tspan></text></g>

<g id="T2-Lh2k"><rect class="lt" x="799" y="382" width="120" height="45"/><use href="#gD" x="799" y="389"/>
<text class="t" x="809" y="417">l&#x302;<tspan class="s" x="817.5" y="409.5"><tspan class="u">2</tspan>k</tspan><tspan class="s u" x="817.5" y="424.5">1</tspan></text>
<text class="el" x="845" y="422">…</text>
<text class="t" x="878" y="417">l&#x302;<tspan class="s" x="887" y="409.5"><tspan class="u">2</tspan>k</tspan><tspan class="s" x="887" y="424.5"><tspan class="u">2</tspan>β</tspan></text>
<text class="t e" x="787" y="398.5">t&#x302;<tspan class="s" dy="3">k<tspan class="u">+1</tspan></tspan></text>
<text class="t" x="923" y="398.5">L&#x302;<tspan class="s" dy="3"><tspan class="u">2</tspan>k</tspan></text></g>

<g id="T2-Lhk2"><rect class="lt" x="799" y="448.5" width="120" height="45"/><use href="#gD" x="799" y="455.5"/>
<text class="t" x="809" y="483.5">l&#x302;<tspan class="s" x="817.5" y="476">k<tspan class="u">+2</tspan></tspan><tspan class="s u" x="817.5" y="491">1</tspan></text>
<text class="el" x="845" y="488.5">…</text>
<text class="t" x="878" y="483.5">l&#x302;<tspan class="s" x="887" y="476">k<tspan class="u">+2</tspan></tspan><tspan class="s" x="887" y="491"><tspan class="u">2</tspan>β</tspan></text>
<text class="t e" x="787" y="465">t&#x302;<tspan class="s" dy="3"><tspan class="u">2</tspan>k<tspan class="u">−1</tspan></tspan></text>
<text class="t" x="923" y="465">L&#x302;<tspan class="s" dy="3">k<tspan class="u">+2</tspan></tspan></text></g>

<g id="T2-Lhk1"><rect class="lt" x="799" y="500.5" width="120" height="45"/><use href="#gD" x="799" y="507.5"/>
<text class="t" x="809" y="535.5">l&#x302;<tspan class="s" x="817.5" y="528">k<tspan class="u">+1</tspan></tspan><tspan class="s u" x="817.5" y="543">1</tspan></text>
<text class="el" x="845" y="540.5">…</text>
<text class="t" x="878" y="535.5">l&#x302;<tspan class="s" x="887" y="528">k<tspan class="u">+1</tspan></tspan><tspan class="s" x="887" y="543"><tspan class="u">2</tspan>β</tspan></text>
<text class="t e" x="787" y="517">t&#x302;<tspan class="s" dy="3"><tspan class="u">2</tspan>k</tspan></text>
<text class="t" x="923" y="517">L&#x302;<tspan class="s" dy="3">k<tspan class="u">+1</tspan></tspan></text></g>

<g id="T2-Rk1"><rect class="dk" x="799" y="560.5" width="120" height="45"/><use href="#gC" x="799" y="567.5"/>
<text class="t" x="808" y="595.5">r<tspan class="s" x="817.5" y="588">k<tspan class="u">+1</tspan></tspan><tspan class="s u" x="817.5" y="603">1</tspan></text>
<text class="el" x="845" y="600.5">…</text>
<text class="t" x="877" y="595.5">r<tspan class="s" x="887" y="588">k<tspan class="u">+1</tspan></tspan><tspan class="s" x="887" y="603"><tspan class="u">2</tspan>α</tspan></text>
<text class="t e" x="795" y="577">R<tspan class="s" dy="3">k<tspan class="u">+1</tspan></tspan></text>
<text class="t" x="941" y="577">t<tspan class="s" dy="3">k<tspan class="u">+1</tspan></tspan></text></g>

<g id="T2-Rk2"><rect class="dk" x="799" y="612.5" width="120" height="45"/><use href="#gC" x="799" y="619.5"/>
<text class="t" x="808" y="647.5">r<tspan class="s" x="817.5" y="640">k<tspan class="u">+2</tspan></tspan><tspan class="s u" x="817.5" y="655">1</tspan></text>
<text class="el" x="845" y="652.5">…</text>
<text class="t" x="877" y="647.5">r<tspan class="s" x="887" y="640">k<tspan class="u">+2</tspan></tspan><tspan class="s" x="887" y="655"><tspan class="u">2</tspan>α</tspan></text>
<text class="t e" x="795" y="629">R<tspan class="s" dy="3">k<tspan class="u">+2</tspan></tspan></text>
<text class="t" x="941" y="629">t<tspan class="s" dy="3">k<tspan class="u">+2</tspan></tspan></text></g>

<g id="T2-R2k"><rect class="dk" x="799" y="687.5" width="120" height="45"/><use href="#gC" x="799" y="694.5"/>
<text class="t" x="808" y="722.5">r<tspan class="s" x="817.5" y="715"><tspan class="u">2</tspan>k</tspan><tspan class="s u" x="817.5" y="730">1</tspan></text>
<text class="el" x="845" y="727.5">…</text>
<text class="t" x="877" y="722.5">r<tspan class="s" x="887" y="715"><tspan class="u">2</tspan>k</tspan><tspan class="s" x="887" y="730"><tspan class="u">2</tspan>α</tspan></text>
<text class="t e" x="795" y="704">R<tspan class="s" dy="3"><tspan class="u">2</tspan>k</tspan></text>
<text class="t" x="941" y="704">t<tspan class="s" dy="3"><tspan class="u">2</tspan>k</tspan></text></g>
</svg>
